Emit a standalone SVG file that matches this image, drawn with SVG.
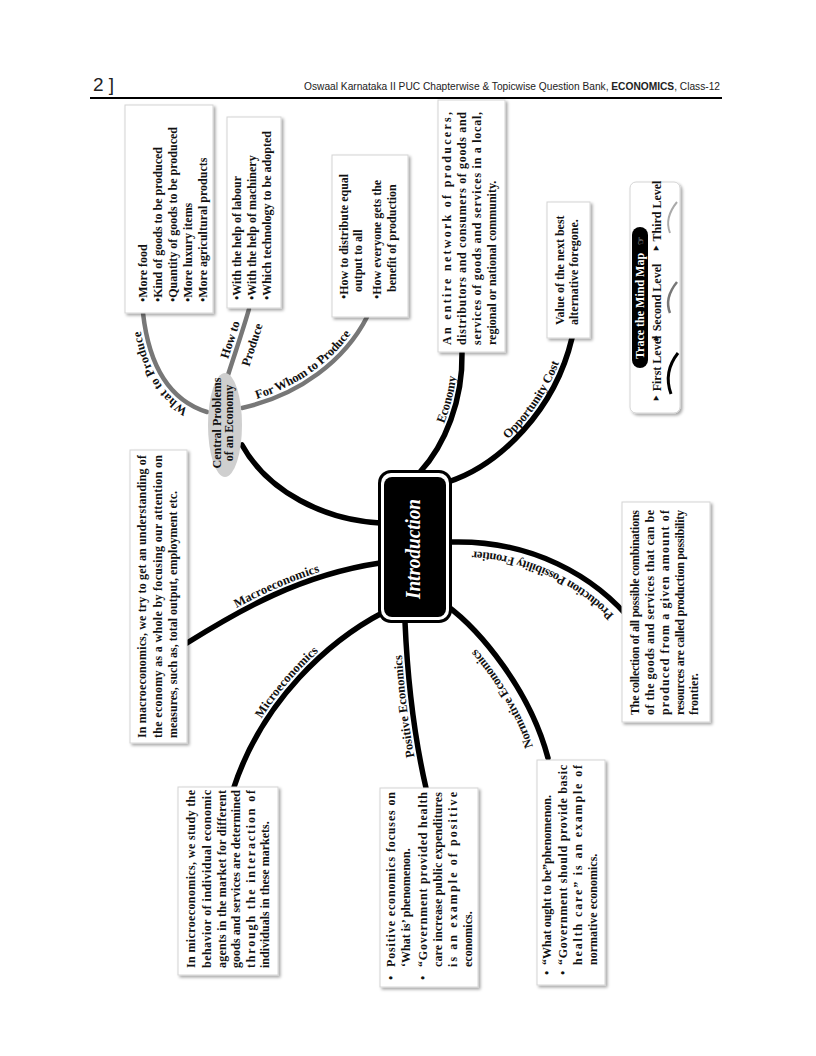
<svg xmlns="http://www.w3.org/2000/svg" width="816" height="1056" viewBox="0 0 816 1056">
<defs>
<filter id="sh" x="-20%" y="-20%" width="140%" height="140%"><feDropShadow dx="2" dy="2" stdDeviation="1.6" flood-color="#000" flood-opacity="0.35"/></filter>
</defs>
<style>
.box{fill:#fff;stroke:#d4d4d4;stroke-width:1;filter:url(#sh)}
.t{font-family:"Liberation Serif","DejaVu Serif",serif;font-weight:bold;font-size:12px;fill:#111}
.lbl{font-family:"Liberation Serif","DejaVu Serif",serif;font-weight:bold;font-size:12.5px;fill:#111}
.hd{font-family:"Liberation Sans",sans-serif;font-size:10.2px;fill:#222}
.br{fill:none;stroke:#000;stroke-width:5.5;stroke-linecap:round}
.gr{fill:none;stroke:#777;stroke-width:4.5;stroke-linecap:round}
</style>
<rect width="816" height="1056" fill="#fff"/>
<g id="header">
<text x="93" y="91" font-family="Liberation Sans, sans-serif" font-size="19" fill="#222">2 ]</text>
<text class="hd" x="720" y="90" text-anchor="end">Oswaal Karnataka II PUC Chapterwise &amp; Topicwise Question Bank, <tspan font-weight="bold">ECONOMICS</tspan>, Class-12</text>
<line x1="90" y1="98" x2="722" y2="98" stroke="#000" stroke-width="2"/>
</g>
<g id="connectors">
<path class="br" d="M 242,445 C 268,492 325,520 380,523"/>
<path class="br" id="p_macro" d="M 187,643 C 240,610 300,575 380,563"/>
<path class="br" id="p_micro" d="M 233,790 C 262,700 330,640 384,612"/>
<path class="br" id="p_pos" d="M 426,788 C 415,740 408,690 405,622"/>
<path class="br" id="p_norm" d="M 548,758 C 530,690 480,630 446,605"/>
<path class="br" id="p_ppf" d="M 634,624 C 595,575 530,540 452,542"/>
<path class="br" id="p_opp" d="M 448,482 C 500,465 555,410 572,338"/>
<path class="br" id="p_eco" d="M 420,472 C 445,445 463,400 462,353"/>
<path class="gr" id="p_what" d="M 207,412 C 175,402 150,375 143,313"/>
<path class="gr" d="M 228,375 C 236,350 243,330 249,309"/>
<path class="gr" id="p_whom" d="M 242,408 C 300,395 345,360 367,317"/>
<text class="lbl"><textPath href="#p_macro" startOffset="50%" text-anchor="middle"><tspan dy="-5">Macroeconomics</tspan></textPath></text>
<text class="lbl"><textPath href="#p_micro" startOffset="50%" text-anchor="middle"><tspan dy="-5">Microeconomics</tspan></textPath></text>
<text class="lbl"><textPath href="#p_pos" startOffset="50%" text-anchor="middle"><tspan dy="-5">Positive Economics</tspan></textPath></text>
<text class="lbl"><textPath href="#p_norm" startOffset="40%" text-anchor="middle"><tspan dy="-11">Normative Economics</tspan></textPath></text>
<text class="lbl"><textPath href="#p_ppf" startOffset="50%" text-anchor="middle"><tspan dy="-9">Production Possibility Frontier</tspan></textPath></text>
<text class="lbl"><textPath href="#p_opp" startOffset="62%" text-anchor="middle"><tspan dy="-5">Opportunity Cost</tspan></textPath></text>
<text class="lbl"><textPath href="#p_eco" startOffset="62%" text-anchor="middle"><tspan dy="-5">Economy</tspan></textPath></text>
<text class="lbl"><textPath href="#p_what" startOffset="50%" text-anchor="middle"><tspan dy="-5">What to Produce</tspan></textPath></text>
<text class="lbl"><textPath href="#p_whom" startOffset="48%" text-anchor="middle"><tspan dy="-5">For Whom to Produce</tspan></textPath></text>
<text class="lbl" text-anchor="middle" transform="translate(234,341) rotate(-72)">How to</text>
<text class="lbl" text-anchor="middle" transform="translate(256,346) rotate(-72)">Produce</text>
</g>
<g id="intro">
<rect x="378" y="470" width="74" height="153" rx="13" fill="#000"/>
<rect x="381" y="473" width="68" height="147" rx="10" fill="#fff"/>
<rect x="384" y="477" width="62" height="140" rx="8" fill="#000"/>
<text transform="translate(420,549) rotate(-90)" text-anchor="middle" font-family="Liberation Serif, serif" font-style="italic" font-weight="bold" font-size="20" fill="#fff" textLength="100" lengthAdjust="spacingAndGlyphs">Introduction</text>
</g>
<g id="central-problems">
<ellipse cx="225" cy="425" rx="17" ry="52" fill="#cfcfcf"/>
<text class="t" font-size="11" text-anchor="middle" transform="translate(221,423) rotate(-90)">Central Problems</text>
<text class="t" font-size="11" text-anchor="middle" transform="translate(233,423) rotate(-90)">of an Economy</text>
</g>
<g id="what-box">
<rect class="box" x="125" y="105" width="88" height="208"/>
<g transform="translate(125,313) rotate(-90)">
<text class="t" x="11" y="22">•More food</text>
<text class="t" x="11" y="37">•Kind of goods to be produced</text>
<text class="t" x="11" y="52">•Quantity of goods to be produced</text>
<text class="t" x="11" y="67">•More luxury items</text>
<text class="t" x="11" y="82">•More agricultural products</text>
</g>
</g>
<g id="how-box">
<rect class="box" x="227" y="117" width="54" height="191"/>
<g transform="translate(227,308) rotate(-90)">
<text class="t" x="8" y="14">•With the help of labour</text>
<text class="t" x="8" y="29">•With the help of machinery</text>
<text class="t" x="8" y="44">•Which technology to be adopted</text>
</g>
</g>
<g id="whom-box">
<rect class="box" x="332" y="155" width="76" height="162"/>
<g transform="translate(332,317) rotate(-90)">
<text class="t" x="18" y="16">•How to distribute equal</text>
<text class="t" x="25" y="30">output to all</text>
<text class="t" x="18" y="49">•How everyone gets the</text>
<text class="t" x="25" y="64">benefit of production</text>
</g>
</g>
<g id="economy-box">
<rect class="box" x="438" y="100" width="67" height="252"/>
<g transform="translate(438,352) rotate(-90)">
<text class="t" x="7" y="13" textLength="233" lengthAdjust="spacing">An entire network of producers,</text>
<text class="t" x="7" y="28" textLength="233" lengthAdjust="spacing">distributors and consumers of goods and</text>
<text class="t" x="7" y="43" textLength="233" lengthAdjust="spacing">services of goods and services in a local,</text>
<text class="t" x="7" y="58">regional or national community.</text>
</g>
</g>
<g id="opportunity-box">
<rect class="box" x="547" y="202" width="43" height="136"/>
<g transform="translate(547,338) rotate(-90)">
<text class="t" x="13" y="17">Value of the next best</text>
<text class="t" x="13" y="31">alternative foregone.</text>
</g>
</g>
<g id="legend">
<rect class="box" x="630" y="182" width="50" height="231" rx="6"/>
<g transform="translate(630,413) rotate(-90)">
<rect x="45" y="2" width="141" height="16" rx="8" fill="#000"/>
<text class="t" x="54" y="14" font-size="9.5" style="fill:#fff">Trace the  Mind Map</text>
<text x="168" y="14" font-family="DejaVu Sans, sans-serif" font-size="10" fill="#fff">☞</text>
<text class="t" x="11" y="31" font-size="8.5">‣ First Level</text>
<text class="t" x="71" y="31" font-size="8.5">‣ Second Level</text>
<text class="t" x="161" y="31" font-size="8.5">‣ Third Level</text>
</g>
<path d="M 678,353 Q 663,372 671,394" fill="none" stroke="#000" stroke-width="3"/>
<path d="M 677,282 Q 664,298 670,313" fill="none" stroke="#777" stroke-width="2.5"/>
<path d="M 677,202 Q 664,218 670,233" fill="none" stroke="#aaa" stroke-width="2"/>
</g>
<g id="macro-box">
<rect class="box" x="130" y="450" width="57" height="293"/>
<g transform="translate(130,743) rotate(-90)">
<text class="t" x="5" y="16" textLength="283" lengthAdjust="spacing">In macroeconomics, we try to get an understanding of</text>
<text class="t" x="5" y="32" textLength="283" lengthAdjust="spacing">the economy as a whole by focusing our attention on</text>
<text class="t" x="5" y="47">measures, such as, total output, employment etc.</text>
</g>
</g>
<g id="micro-box">
<rect class="box" x="178" y="787" width="100" height="188"/>
<g transform="translate(178,975) rotate(-90)">
<text class="t" x="7" y="17" textLength="178" lengthAdjust="spacing">In microeconomics, we study the</text>
<text class="t" x="7" y="33" textLength="178" lengthAdjust="spacing">behavior of individual economic</text>
<text class="t" x="7" y="48" textLength="178" lengthAdjust="spacing">agents in the market for different</text>
<text class="t" x="7" y="62" textLength="178" lengthAdjust="spacing">goods and services are determined</text>
<text class="t" x="7" y="77" textLength="178" lengthAdjust="spacing">through the interaction of</text>
<text class="t" x="7" y="91">individuals in these markets.</text>
</g>
</g>
<g id="positive-box">
<rect class="box" x="380" y="788" width="98" height="199"/>
<g transform="translate(380,987) rotate(-90)">
<text class="t" x="7" y="15">•</text>
<text class="t" x="20" y="15" textLength="175" lengthAdjust="spacing">Positive economics focuses on</text>
<text class="t" x="20" y="30">‘What is’ phenomenon.</text>
<text class="t" x="7" y="47">•</text>
<text class="t" x="20" y="47" textLength="175" lengthAdjust="spacing">“Government provided health</text>
<text class="t" x="20" y="62" textLength="175" lengthAdjust="spacing">care increase public expenditures</text>
<text class="t" x="20" y="77" textLength="175" lengthAdjust="spacing">is an example of positive</text>
<text class="t" x="20" y="92">economics.</text>
</g>
</g>
<g id="normative-box">
<rect class="box" x="537" y="760" width="68" height="225"/>
<g transform="translate(537,985) rotate(-90)">
<text class="t" x="10" y="14">•</text>
<text class="t" x="20" y="14">“What ought to be”phenomenon.</text>
<text class="t" x="10" y="30">•</text>
<text class="t" x="20" y="30" textLength="200" lengthAdjust="spacing">“Government should provide basic</text>
<text class="t" x="20" y="45" textLength="200" lengthAdjust="spacing">health care” is an example of</text>
<text class="t" x="20" y="60">normative economics.</text>
</g>
</g>
<g id="ppf-box">
<rect class="box" x="622" y="502" width="88" height="220"/>
<g transform="translate(622,722) rotate(-90)">
<text class="t" x="7" y="17" textLength="205" lengthAdjust="spacing">The collection of all possible combinations</text>
<text class="t" x="7" y="32" textLength="205" lengthAdjust="spacing">of the goods and services that can be</text>
<text class="t" x="7" y="47" textLength="205" lengthAdjust="spacing">produced from a given amount of</text>
<text class="t" x="7" y="62" textLength="205" lengthAdjust="spacing">resources are called production possibility</text>
<text class="t" x="7" y="76">frontier.</text>
</g>
</g>
</svg>
